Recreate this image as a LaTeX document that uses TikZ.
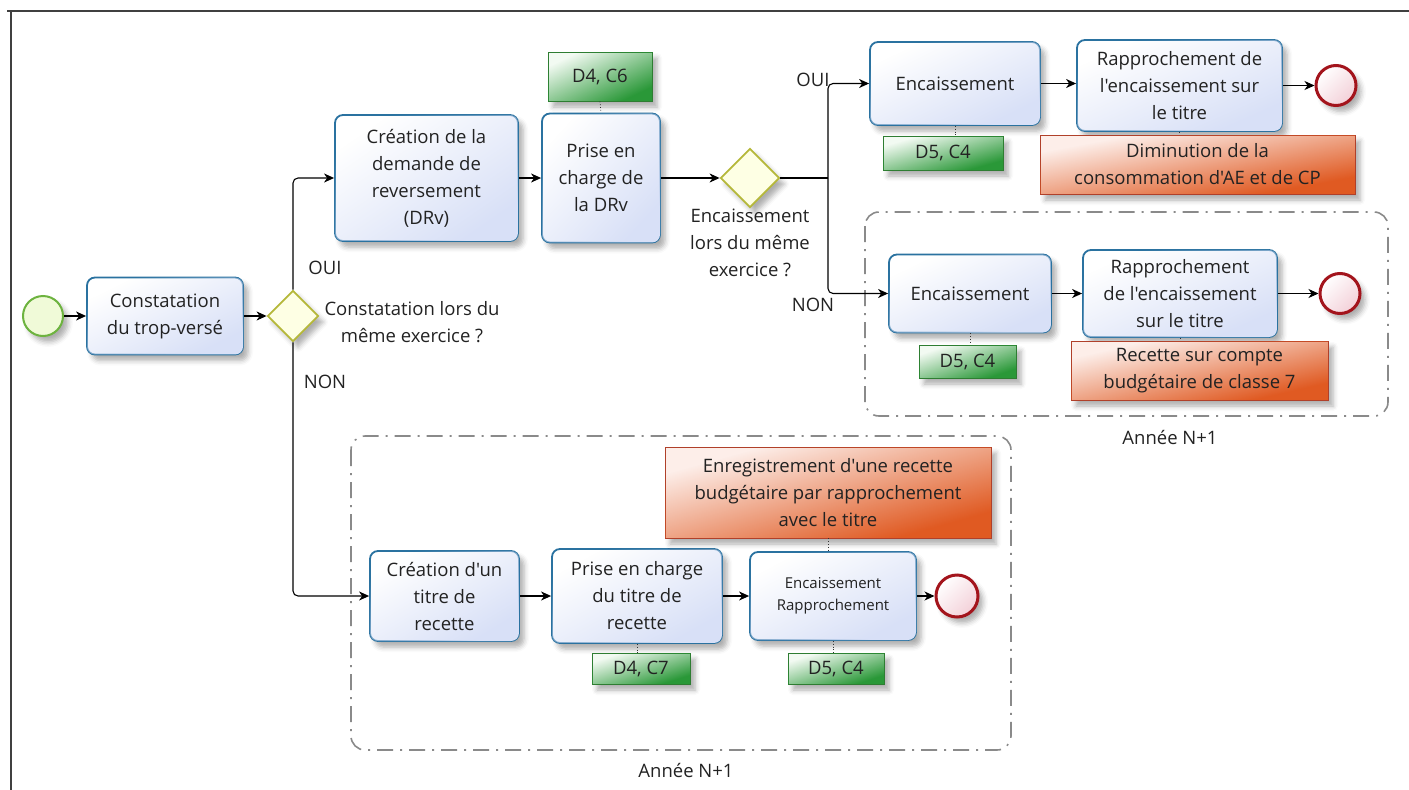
\documentclass[tikz,border=0pt]{standalone}
\usepackage{fontspec}
\setmainfont{Open Sans}[Ligatures=TeXOff]
\usetikzlibrary{shapes.geometric,arrows.meta,shadows.blur,fadings}

\definecolor{taskline}{HTML}{2A72A0}
\definecolor{taskfill}{HTML}{D8E0F7}
\definecolor{gwline}{HTML}{B5B83A}
\definecolor{gwfill}{HTML}{FEFFE4}
\definecolor{startline}{HTML}{6DB33F}
\definecolor{startfill}{HTML}{F0FAD8}
\definecolor{endline}{HTML}{A3141C}
\definecolor{endfill}{HTML}{F3D0D8}
\definecolor{noteglight}{HTML}{F2FAF2}
\definecolor{notegdark}{HTML}{2A9838}
\definecolor{notegline}{HTML}{2E7D32}
\definecolor{noterlight}{HTML}{FDEEE9}
\definecolor{noterdark}{HTML}{E05A22}
\definecolor{noterline}{HTML}{B0402A}
\definecolor{groupline}{HTML}{8A8A8A}
\definecolor{txt}{HTML}{222222}

% corner-to-corner fading, stretched to each filled shape
\tikzfading[name=diagfade, top color=transparent!100, bottom color=transparent!0, shading angle=45]

\newcommand\boxfont{\fontsize{18.5}{27}\selectfont}
\newcommand\smallboxfont{\fontsize{15}{22}\selectfont}

\tikzset{
  shade/.style={blur shadow={shadow xshift=5pt,shadow yshift=-6pt,shadow blur radius=5pt,shadow opacity=32}},
  diagfill/.style 2 args={fill=#1, postaction={fill=#2, path fading=diagfade}},
  task/.style={rectangle, rounded corners=8pt, draw=taskline, line width=1.8pt,
    diagfill={white}{taskfill},
    align=center, font=\boxfont, text=txt, inner sep=2pt, shade},
  gateway/.style={diamond, aspect=1, draw=gwline, line width=1.8pt, fill=gwfill,
    inner sep=0pt, shade},
  startev/.style={circle, draw=startline, line width=2pt, fill=startfill,
    inner sep=0pt, minimum size=40pt, shade},
  endev/.style={circle, draw=endline, line width=3pt,
    top color=white, bottom color=endfill, shading angle=45,
    inner sep=0pt, minimum size=40pt, shade},
  notegreen/.style={rectangle, draw=notegline, line width=0.9pt,
    diagfill={noteglight}{notegdark},
    align=center, font=\boxfont, text=txt, inner sep=1pt, shade},
  notered/.style={rectangle, draw=noterline, line width=0.9pt,
    diagfill={noterlight}{noterdark},
    align=center, font=\boxfont, text=txt, inner sep=1pt, shade},
  grp/.style={draw=groupline, line width=1.6pt, rounded corners=14pt,
    dash pattern=on 16pt off 7pt on 2pt off 7pt},
  lbl/.style={font=\boxfont, text=txt, align=center, inner sep=0pt},
  flow/.style={-{Stealth[length=10pt,width=9pt,inset=3pt]}, line width=1.1pt, black},
  seq/.style={line width=1.1pt, black},
  assoc/.style={line width=0.8pt, black!80, dotted},
}

\begin{document}
\begin{tikzpicture}[x=1pt,y=-1pt]
\useasboundingbox (0,0) rectangle (1409,790);

% outer frame
\draw[line width=1.4pt, black!75] (7,11) -- (1409,11);
\draw[line width=1.4pt, black!75] (11,11) -- (11,790);

% groups for the following year
\draw[grp] (865,212) rectangle (1388,416);
\node[lbl] (year1) at (1170,437) {Année N+1};
\draw[grp] (351,436) rectangle (1011,750);
\node[lbl] (year2) at (686,770) {Année N+1};

% main line
\node[startev] (start) at (43,316) {};
\node[task, minimum width=156pt, minimum height=77pt] (t1) at (165,316) {Constatation\\du trop-versé};
\node[gateway, minimum width=51pt, minimum height=51pt] (g1) at (293,316) {};
\node[lbl] (g1oui) at (325,268) {OUI};
\node[lbl] (g1q) at (412,322) {Constatation lors du\\même exercice ?};
\node[lbl] (g1non) at (325,382) {NON};

% same financial year
\node[task, minimum width=183pt, minimum height=126pt] (t2) at (426.5,178) {Création de la\\demande de\\reversement\\(DRv)};
\node[task, minimum width=118pt, minimum height=129pt] (t3) at (601,178) {Prise en\\charge de\\la DRv};
\node[notegreen, minimum width=104pt, minimum height=49pt] (a1) at (600,76.5) {D4, C6};
\node[gateway, minimum width=59pt, minimum height=59pt] (g2) at (750,178) {};
\node[lbl] (g2q) at (750,243) {Encaissement\\lors du même\\exercice ?};
\coordinate (split) at (828,178);
\node[lbl] (g2oui) at (813,80) {OUI};
\node[lbl] (g2non) at (813,305) {NON};

% collection in the same year
\node[task, minimum width=170pt, minimum height=83pt] (t4) at (955,83.5) {Encaissement};
\node[task, minimum width=205pt, minimum height=91pt] (t5) at (1179.5,85.5) {Rapprochement de\\l'encaissement sur\\le titre};
\node[endev] (e1) at (1336,85.5) {};
\node[notegreen, minimum width=120pt, minimum height=34pt] (a2) at (943,153) {D5, C4};
\node[notered, minimum width=315pt, minimum height=59pt] (r1) at (1197.5,164.5) {Diminution de la\\consommation d'AE et de CP};

% collection in the following year
\node[task, minimum width=162pt, minimum height=78pt] (t6) at (970,293.5) {Encaissement};
\node[task, minimum width=194pt, minimum height=87pt] (t7) at (1180,293.5) {Rapprochement\\de l'encaissement\\sur le titre};
\node[endev] (e2) at (1340,293.5) {};
\node[notegreen, minimum width=97pt, minimum height=33pt] (a3) at (967.5,361.5) {D5, C4};
\node[notered, minimum width=257pt, minimum height=59pt] (r2) at (1199.5,370.5) {Recette sur compte\\budgétaire de classe 7};

% different financial year
\node[task, minimum width=149pt, minimum height=90pt] (t8) at (444.5,596) {Création d'un\\titre de\\recette};
\node[task, minimum width=170pt, minimum height=94pt] (t9) at (637,596) {Prise en charge\\du titre de\\recette};
\node[task, minimum width=166pt, minimum height=88pt, font=\smallboxfont] (t10) at (833,596) {Encaissement\\Rapprochement};
\node[endev, minimum size=42pt] (e3) at (957,596) {};
\node[notegreen, minimum width=98pt, minimum height=31pt] (a4) at (641,668.5) {D4, C7};
\node[notegreen, minimum width=96pt, minimum height=31pt] (a5) at (836,668.5) {D5, C4};
\node[notered, minimum width=326pt, minimum height=91pt] (r3) at (828,492.5) {Enregistrement d'une recette\\budgétaire par rapprochement\\avec le titre};

% sequence flows
\draw[flow] (start) -- (t1);
\draw[flow] (t1) -- (g1);
\draw[flow, rounded corners=5pt] (g1.north) |- (t2.west);
\draw[flow, rounded corners=5pt] (g1.south) |- (t8.west);
\draw[flow] (t2) -- (t3);
\draw[flow] (t3) -- (g2);
\draw[seq] (g2.east) -- (split);
\draw[flow, rounded corners=5pt] (split) |- (t4.west);
\draw[flow, rounded corners=5pt] (split) |- (t6.west);
\draw[flow] (t4.east) -- (t4.east -| t5.west);
\draw[flow] (t5.east |- e1) -- (e1);
\draw[flow] (t6) -- (t7);
\draw[flow] (t7) -- (e2);
\draw[flow] (t8) -- (t9);
\draw[flow] (t9) -- (t10);
\draw[flow] (t10) -- (e3);

% associations
\draw[assoc] (a1.south) -- (t3.north);
\draw[assoc] (t4.south) -- (t4.south |- a2.north);
\draw[assoc] (t5.south) -- (t5.south |- r1.north);
\draw[assoc] (t6.south) -- (t6.south |- a3.north);
\draw[assoc] (t7.south) -- (t7.south |- r2.north);
\draw[assoc] (t9.south) -- (t9.south |- a4.north);
\draw[assoc] (t10.south) -- (t10.south |- a5.north);
\draw[assoc] (r3.south) -- (r3.south |- t10.north);
\end{tikzpicture}
\end{document}
